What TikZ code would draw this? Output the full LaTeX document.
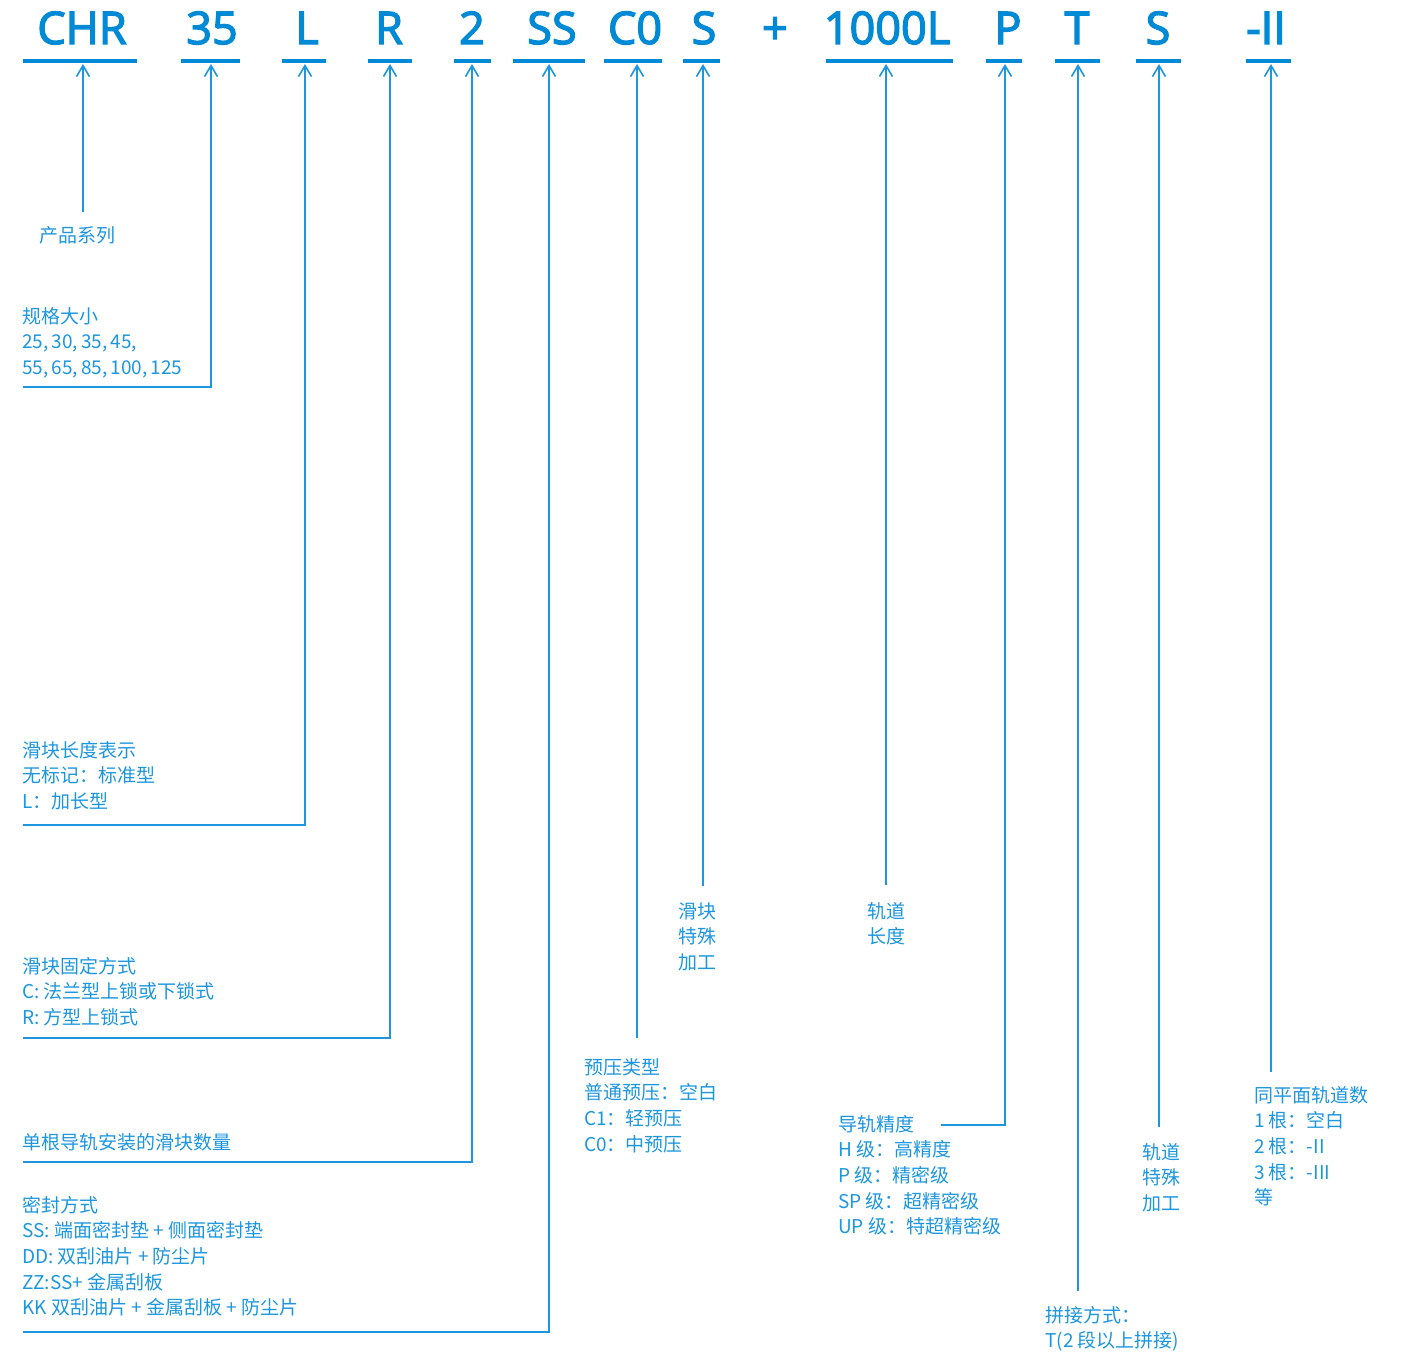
\documentclass[tikz,border=0pt]{standalone}
\usepackage{fontspec}
\newfontfamily\cjk{Noto Sans CJK SC}
\newfontfamily\hdrfont{Open Sans}[FakeBold=3]
\usetikzlibrary{arrows.meta}
\definecolor{hblue}{RGB}{0,138,214}
\definecolor{lblue}{RGB}{28,150,222}
\tikzset{
 hdr/.style={font=\hdrfont\fontsize{45}{45}\selectfont, text=hblue, inner sep=0pt, anchor=base},
 lbl/.style={font=\cjk\fontsize{19}{25.7}\selectfont, text=lblue, inner sep=0pt, anchor=base west},
 uline/.style={draw=hblue, line width=3.6pt},
 conn/.style={draw=lblue, line width=1.6pt},
 arr/.style={conn, {Straight Barb[length=11pt, width=13pt]}-},
}
\newcommand\labelblock[4]{%
 \foreach \t [count=\i from 0] in {#4} {\node[lbl] (#1\i) at (#2, #3+25.7*\i) {\t};}}
\begin{document}
\begin{tikzpicture}[x=1pt, y=-1pt]
\useasboundingbox (0,0) rectangle (1401,1352);
% header
\node[hdr] (hChr) at (82,44) {CHR};
\node[hdr] (h35) at (212,44) {35};
\node[hdr] (hL) at (307,44) {L};
\node[hdr] (hR) at (389,44) {R};
\node[hdr] (h2) at (472,44) {2};
\node[hdr] (hSS) at (552,44) {SS};
\node[hdr] (hC0) at (635,44) {C0};
\node[hdr] (hS) at (704,44) {S};
\node[hdr] (hPlus) at (775,44) {+};
\node[hdr] (hLen) at (887,44) {1000L};
\node[hdr] (hP) at (1008,44) {P};
\node[hdr] (hT) at (1077,44) {T};
\node[hdr] (hS2) at (1158,44) {S};
\node[hdr] (hII) at (1266,44) {-II};
% underlines
\foreach \a/\b in {23/137,181/240,282/326,368/412,454/491,513/585,604/662,683/720,826/953,986/1022,1055/1100,1136/1181,1246/1291}
  \draw[uline] (\a,61) -- (\b,61);
% arrow tips (just below the underlines)
\foreach \n/\x in {Chr/83,35/211,L/305,R/390,2/472,SS/549,C0/637,S/703,Len/886,P/1005,T/1078,S2/1159,II/1271}
  \coordinate (t\n) at (\x,64);
% connector ends
\coordinate (eChr) at (83,212);
\coordinate (c35) at (211,387); \coordinate (e35) at (23,387);
\coordinate (cL) at (305,825); \coordinate (eL) at (23,825);
\coordinate (cR) at (390,1038); \coordinate (eR) at (23,1038);
\coordinate (c2) at (472,1162); \coordinate (e2) at (23,1162);
\coordinate (cSS) at (549,1332); \coordinate (eSS) at (23,1332);
\coordinate (eC0) at (637,1038);
\coordinate (eS) at (703,886);
\coordinate (eLen) at (886,885);
\coordinate (cP) at (1005,1125); \coordinate (eP) at (941,1125);
\coordinate (eT) at (1078,1291);
\coordinate (eS2) at (1159,1127);
\coordinate (eII) at (1271,1072);
% connectors
\draw[arr] (tChr) -- (eChr);
\draw[arr] (t35) -- (c35) -- (e35);
\draw[arr] (tL) -- (cL) -- (eL);
\draw[arr] (tR) -- (cR) -- (eR);
\draw[arr] (t2) -- (c2) -- (e2);
\draw[arr] (tSS) -- (cSS) -- (eSS);
\draw[arr] (tC0) -- (eC0);
\draw[arr] (tS) -- (eS);
\draw[arr] (tLen) -- (eLen);
\draw[arr] (tP) -- (cP) -- (eP);
\draw[arr] (tT) -- (eT);
\draw[arr] (tS2) -- (eS2);
\draw[arr] (tII) -- (eII);
% labels
\labelblock{series}{39}{242}{产品系列}
\labelblock{size}{22}{323}{规格大小,{25,\,30,\,35,\,45,},{55,\,65,\,85,\,100,\,125}}
\labelblock{blen}{22}{757}{滑块长度表示,无标记：标准型,L：加长型}
\labelblock{fix}{22}{973}{滑块固定方式,C: 法兰型上锁或下锁式,R: 方型上锁式}
\labelblock{num}{22}{1149}{单根导轨安装的滑块数量}
\labelblock{seal}{22}{1212}{密封方式,SS: 端面密封垫 + 侧面密封垫,DD: 双刮油片 + 防尘片,ZZ:SS+ 金属刮板,KK 双刮油片 + 金属刮板 + 防尘片}
\labelblock{pre}{584}{1074}{预压类型,普通预压：空白,C1：轻预压,C0：中预压}
\labelblock{bsp}{678}{918}{滑块,特殊,加工}
\labelblock{rlen}{867}{918}{轨道,长度}
\labelblock{acc}{838}{1131}{导轨精度,H 级：高精度,P 级：精密级,SP 级：超精密级,UP 级：特超精密级}
\labelblock{join}{1045}{1322}{拼接方式：,T(2 段以上拼接)}
\labelblock{rsp}{1142}{1159}{轨道,特殊,加工}
\labelblock{cnt}{1254}{1102}{同平面轨道数,1 根：空白,2 根：-II,3 根：-III,等}
\end{tikzpicture}
\end{document}
